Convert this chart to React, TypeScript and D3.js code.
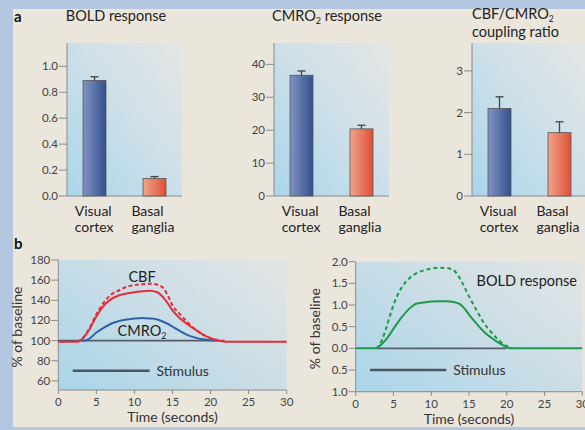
import * as d3 from 'd3';

// panel a: bar values (mean and top of error bar)
const categories = ['Visual cortex', 'Basal ganglia'];
const boldMean = [0.89, 0.135];
const boldErr = [0.92, 0.15];
const cmroMean = [36.7, 20.4];
const cmroErr = [38.0, 21.5];
const ratioMean = [2.1, 1.52];
const ratioErr = [2.38, 1.78];

const boldTicks = [0, 0.2, 0.4, 0.6, 0.8, 1.0];
const cmroTicks = [0, 10, 20, 30, 40];
const ratioTicks = [0, 1, 2, 3];

// panel b: time courses
const timeTicks = [0, 5, 10, 15, 20, 25, 30];
const pctTicks = [60, 80, 100, 120, 140, 160, 180];
const boldPctTicks = [-1, -0.5, 0, 0.5, 1, 1.5, 2];

const cbfT = [0, 2.5, 3, 4, 5, 6, 7, 8, 10, 12, 13, 14, 15, 16, 17, 18, 19, 20, 21, 22, 30];
const cbfSolid = [99, 99, 100.5, 110, 124, 135, 141.5, 145, 148, 149.5, 148, 141, 130, 122, 116, 111, 106, 102.5, 100, 99, 99];

const cbfDashT = [2.5, 3, 4, 5, 6, 7, 8, 9, 10, 11, 12, 13, 13.8, 14.5, 15, 16, 17, 18, 19, 20, 21, 22];
const cbfDash = [99, 101, 111, 126, 138, 146, 150, 153.5, 155, 156, 156.5, 155.5, 152, 143, 135, 126, 118, 111, 106, 102.5, 100.5, 99.5];

const cmroT = [3, 3.5, 4, 5, 6, 7, 8, 9, 10, 11, 12, 13, 14, 15, 16, 17, 18, 19, 20, 21];
const cmroVals = [100, 100, 101.5, 108, 113, 117, 119.5, 121, 122, 122.5, 122, 121, 118, 114, 109.5, 105.5, 103, 101.3, 100.3, 100];

const boldT = [0, 2.7, 3, 4, 5, 6, 7, 8, 9, 10, 11, 12, 13, 13.8, 14.5, 15, 16, 17, 18, 19, 20, 20.5, 30];
const boldSolid = [0, 0, 0.03, 0.2, 0.45, 0.7, 0.9, 1.03, 1.06, 1.08, 1.09, 1.09, 1.07, 1.02, 0.9, 0.78, 0.57, 0.38, 0.24, 0.12, 0.03, 0, 0];

const boldDashT = [2.7, 3, 3.5, 4, 5, 6, 7, 8, 9, 10, 11, 12, 12.8, 13.5, 14, 15, 16, 17, 18, 19, 20, 20.8];
const boldDash = [0, 0.05, 0.2, 0.45, 1.0, 1.38, 1.6, 1.73, 1.8, 1.84, 1.86, 1.85, 1.82, 1.7, 1.55, 1.2, 0.88, 0.58, 0.36, 0.18, 0.05, 0];

const stimulus = [1.9, 12];

const FONT = 'Lato, "Open Sans", sans-serif';
const AXIS = '#8a8a8a';
const TICKTEXT = '#444';

const zip = (t: number[], v: number[]) => t.map((x, i) => [x, v[i]] as [number, number]);

function BarPanel({ left, title, mean, err, ticks, domain, fmt }: any) {
  const top = 43, bottom = 196, width = 115;
  const x = d3.scaleBand().domain(categories).range([left, left + width]).paddingInner(0.617).paddingOuter(0.267);
  const y = d3.scaleLinear().domain(domain).range([bottom, top]);
  return (
    <g>
      <rect x={left} y={top} width={width} height={bottom - top} fill="url(#plotGrad)" />
      <line x1={left} x2={left} y1={top} y2={bottom} stroke={AXIS} strokeWidth={1} />
      <line x1={left} x2={left + width} y1={bottom} y2={bottom} stroke={AXIS} strokeWidth={1} />
      {ticks.map((t: number) => (
        <g key={t}>
          <line x1={left - 8} x2={left} y1={y(t)} y2={y(t)} stroke={AXIS} />
          <text x={left - 9} y={y(t) + 4} textAnchor="end" fontSize={11.5} fill={TICKTEXT}>{fmt(t)}</text>
        </g>
      ))}
      {categories.map((c, i) => {
        const bx = x(c)!;
        const cx = bx + x.bandwidth() / 2;
        const lines = c.split(' ');
        const maxLen = d3.max(lines, (l) => l.length)!;
        return (
          <g key={c}>
            <rect x={bx} y={y(mean[i])} width={x.bandwidth()} height={bottom - y(mean[i])}
              fill={i === 0 ? `url(#blueBar)` : `url(#redBar)`} stroke="#555" strokeWidth={0.8} />
            <line x1={cx} x2={cx} y1={y(mean[i])} y2={y(err[i])} stroke="#444" strokeWidth={1.3} />
            <line x1={cx - 4} x2={cx + 4} y1={y(err[i])} y2={y(err[i])} stroke="#444" strokeWidth={1.3} />
            {lines.map((l, k) => (
              <text key={l} x={cx - maxLen * 3.3} y={216 + k * 16} fontSize={14} fill="#222">{l}</text>
            ))}
          </g>
        );
      })}
      {title}
    </g>
  );
}

function LinePanel({ left, right, top, bottom, domain, ticks, fmt, base, children }: any) {
  const x = d3.scaleLinear().domain([0, 30]).range([left, right]);
  const y = d3.scaleLinear().domain(domain).range([bottom, top]);
  return (
    <g>
      <rect x={left} y={top} width={right - left} height={bottom - top} fill="url(#plotGrad2)" />
      <line x1={left} x2={left} y1={top} y2={bottom} stroke={AXIS} />
      <line x1={left} x2={right} y1={bottom} y2={bottom} stroke={AXIS} />
      {ticks.map((t: number) => (
        <g key={t}>
          <line x1={left - 7} x2={left} y1={y(t)} y2={y(t)} stroke={AXIS} />
          <text x={left - 8} y={y(t) + 4} textAnchor="end" fontSize={11.5} fill={TICKTEXT}>{fmt(t)}</text>
        </g>
      ))}
      {timeTicks.map((t) => (
        <g key={t}>
          <line x1={x(t)} x2={x(t)} y1={bottom} y2={bottom + 4} stroke={AXIS} />
          <text x={x(t)} y={bottom + 16} textAnchor="middle" fontSize={11.5} fill={TICKTEXT}>{t}</text>
        </g>
      ))}
      <text x={(left + right) / 2} y={bottom + 32} textAnchor="middle" fontSize={14} fill="#333">Time (seconds)</text>
      <text transform={`translate(${left - 36},${(top + bottom) / 2 + 2}) rotate(-90)`} textAnchor="middle" fontSize={14} fill="#333">% of baseline</text>
      <line x1={x(stimulus[0])} x2={x(stimulus[1])} y1={y(base)} y2={y(base)} stroke="#4b5661" strokeWidth={2.5} />
      <text x={x(12.9)} y={y(base) + 5} fontSize={14} fill="#333">Stimulus</text>
      {children(x, y)}
    </g>
  );
}

export default function App() {
  const line = (x: any, y: any) => d3.line<[number, number]>().x((d) => x(d[0])).y((d) => y(d[1])).curve(d3.curveMonotoneX);
  return (
    <svg width={585} height={430} style={{ position: 'absolute', left: 0, top: 0, fontFamily: FONT }}>
      <defs>
        <linearGradient id="plotGrad" x1="0" y1="1" x2="1" y2="0">
          <stop offset="0" stopColor="#aad6eb" />
          <stop offset="0.6" stopColor="#d2e1e8" />
          <stop offset="1" stopColor="#e4e6e4" />
        </linearGradient>
        <linearGradient id="plotGrad2" x1="0" y1="1" x2="1" y2="0.2">
          <stop offset="0" stopColor="#a9d5ea" />
          <stop offset="0.55" stopColor="#c9dde6" />
          <stop offset="1" stopColor="#dfe4e5" />
        </linearGradient>
        <linearGradient id="blueBar" x1="0" y1="0" x2="1" y2="0">
          <stop offset="0" stopColor="#8293c3" />
          <stop offset="1" stopColor="#34508f" />
        </linearGradient>
        <linearGradient id="redBar" x1="0" y1="0" x2="1" y2="0">
          <stop offset="0" stopColor="#f2a48c" />
          <stop offset="1" stopColor="#de4f36" />
        </linearGradient>
      </defs>
      <rect x={0} y={0} width={585} height={430} fill="#b3c8e0" />
      <rect x={13} y={9} width={572} height={418} fill="#ebe6dc" />
      <text x={14} y={22} fontSize={15} fontWeight="bold" fill="#111">a</text>
      <text x={14} y={249} fontSize={15} fontWeight="bold" fill="#111">b</text>

      <BarPanel left={67} mean={boldMean} err={boldErr} ticks={boldTicks} domain={[0, 1.18]}
        fmt={d3.format('.1f')}
        title={<text x={116} y={21} textAnchor="middle" fontSize={14.5} fill="#222">BOLD response</text>} />
      <BarPanel left={274} mean={cmroMean} err={cmroErr} ticks={cmroTicks} domain={[0, 46.5]}
        fmt={d3.format('d')}
        title={<text x={327} y={21} textAnchor="middle" fontSize={14.5} fill="#222">CMRO<tspan fontSize={9} dy={3}>2</tspan><tspan dy={-3}> response</tspan></text>} />
      <BarPanel left={472} mean={ratioMean} err={ratioErr} ticks={ratioTicks} domain={[0, 3.67]}
        fmt={d3.format('d')}
        title={<g>
          <text x={472} y={19} fontSize={14.5} fill="#222">CBF/CMRO<tspan fontSize={8.5} dy={2.5}>2</tspan></text>
          <text x={472} y={37} fontSize={14.5} fill="#222">coupling ratio</text>
        </g>} />

      <LinePanel left={58.3} right={286.7} top={260} bottom={390} domain={[51, 180]} ticks={pctTicks}
        fmt={d3.format('d')} base={70.2}>
        {(x: any, y: any) => (
          <g>
            <line x1={x(0)} x2={x(21.2)} y1={y(100)} y2={y(100)} stroke="#555e66" strokeWidth={1.8} />
            <path d={line(x, y)(zip(cmroT, cmroVals))!} fill="none" stroke="#2c62a8" strokeWidth={2} />
            <path d={line(x, y)(zip(cbfDashT, cbfDash))!} fill="none" stroke="#e52b38" strokeWidth={2} strokeDasharray="4,2.5" />
            <path d={line(x, y)(zip(cbfT, cbfSolid))!} fill="none" stroke="#e52b38" strokeWidth={2} />
            <text x={x(11)} y={y(158)} textAnchor="middle" fontSize={14.5} fill="#222">CBF</text>
            <text x={x(11)} y={y(104.5)} textAnchor="middle" fontSize={14.5} fill="#222">CMRO<tspan fontSize={9} dy={3}>2</tspan></text>
          </g>
        )}
      </LinePanel>

      <LinePanel left={355.7} right={582.3} top={261.7} bottom={391.7} domain={[-1, 2]} ticks={boldPctTicks}
        fmt={(v: number) => d3.format('.1f')(Math.abs(v))} base={-0.5}>
        {(x: any, y: any) => (
          <g>
            <line x1={x(2.8)} x2={x(20)} y1={y(0)} y2={y(0)} stroke="#555e66" strokeWidth={1.8} />
            <path d={line(x, y)(zip(boldDashT, boldDash))!} fill="none" stroke="#1c9a4c" strokeWidth={2} strokeDasharray="4,3" />
            <path d={line(x, y)(zip(boldT, boldSolid))!} fill="none" stroke="#1c9a4c" strokeWidth={2} />
            <text x={x(16)} y={y(1.45)} fontSize={14.5} fill="#222">BOLD response</text>
          </g>
        )}
      </LinePanel>
    </svg>
  );
}
